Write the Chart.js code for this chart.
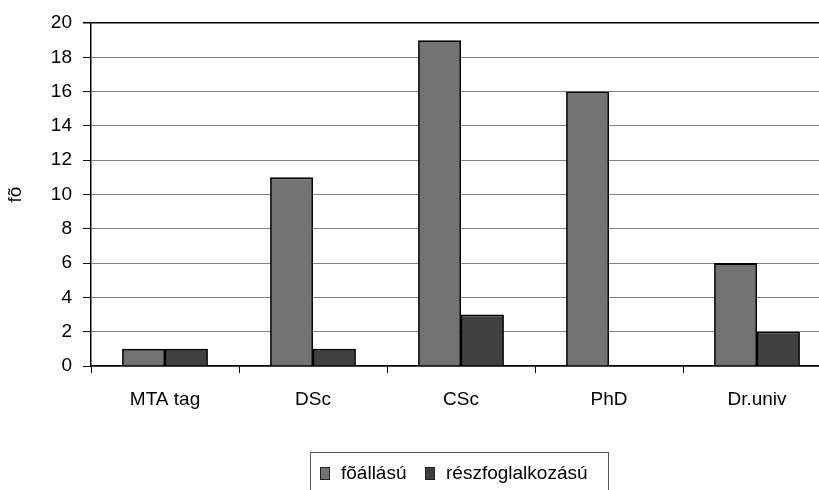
<!DOCTYPE html>
<html lang="hu">
<head>
    <meta charset="UTF-8">
    <title>fõ</title>
    <script src="https://cdn.jsdelivr.net/npm/chart.js"></script>
    <style>
        body { margin: 0; padding: 0; background: white; font-family: 'Liberation Sans', Arial, sans-serif; }
        #wrap { position: relative; width: 819px; height: 490px; overflow: hidden; }
        #chart { position: absolute; left: 0; top: 0; }
        #legend { position: absolute; left: 310px; top: 452px; width: 299px; height: 40px; border: 1px solid #555;
                  box-sizing: border-box; font-size: 19px; color: #000; }
        .item { position: absolute; top: 9px; line-height: 22px; white-space: nowrap; }
        .sw { display: inline-block; width: 10px; height: 13px; border: 1px solid #222; box-sizing: border-box;
              vertical-align: -1px; margin-right: 11px; }
    </style>
</head>
<body>
    <div id="wrap">
        <canvas id="chart" width="831" height="490"></canvas>
        <div id="legend"></div>
    </div>

    <script>
        const categories = ['MTA tag', 'DSc', 'CSc', 'PhD', 'Dr.univ'];
        const seriesNames = ['fõállású', 'részfoglalkozású'];
        const fulltime = [1, 11, 19, 16, 6];
        const parttime = [1, 1, 3, 0, 2];
        const seriesColors = ['#737373', '#404040'];
        const yTitle = 'fõ';

        const font = "'Liberation Sans', Arial, sans-serif";

        // legend drawn as html so it can have the boxed frame
        const legend = document.getElementById('legend');
        const itemLeft = [9, 114];
        seriesNames.forEach((name, i) => {
            const el = document.createElement('div');
            el.className = 'item';
            el.style.left = itemLeft[i] + 'px';
            el.innerHTML = '<span class="sw" style="background:' + seriesColors[i] + '"></span>' + name;
            legend.appendChild(el);
        });

        new Chart(document.getElementById('chart'), {
            type: 'bar',
            data: {
                labels: categories,
                datasets: [
                    { label: seriesNames[0], data: fulltime, backgroundColor: seriesColors[0], borderColor: '#000', borderWidth: 1.8 },
                    { label: seriesNames[1], data: parttime, backgroundColor: seriesColors[1], borderColor: '#000', borderWidth: 1.8 }
                ]
            },
            options: {
                responsive: false,
                animation: false,
                layout: { padding: { top: 23, left: 0, right: 0, bottom: 0 } },
                datasets: { bar: { categoryPercentage: 0.58, barPercentage: 1 } },
                plugins: { legend: { display: false }, tooltip: { enabled: false } },
                scales: {
                    x: {
                        afterFit: s => { s.height = 124; },
                        grid: { drawOnChartArea: false, tickLength: 7, tickColor: '#000', offset: true },
                        border: { color: '#000', width: 1.5 },
                        ticks: { color: '#000', font: { family: font, size: 19 }, padding: 15 }
                    },
                    y: {
                        min: 0, max: 20,
                        afterFit: s => { s.width = 91; },
                        grid: {
                            color: c => c.tick && c.tick.value === 20 ? '#000' : '#808080',
                            lineWidth: c => c.tick && c.tick.value === 20 ? 1.5 : 1,
                            tickLength: 8, tickColor: '#000'
                        },
                        border: { color: '#000', width: 1.5 },
                        ticks: { stepSize: 2, color: '#000', font: { family: font, size: 19 }, padding: 11 },
                        title: { display: true, text: yTitle, color: '#000', font: { family: font, size: 19 }, padding: { top: 4, bottom: 0 } }
                    }
                }
            }
        });
    </script>
</body>
</html>
